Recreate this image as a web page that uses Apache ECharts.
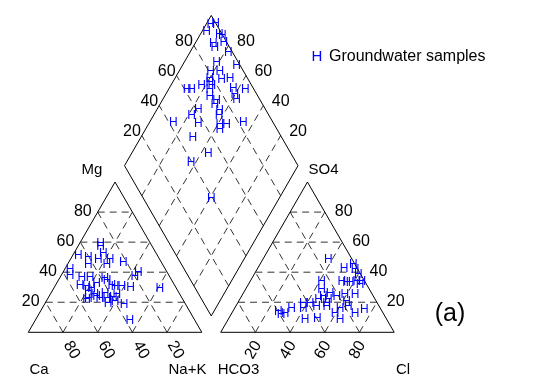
<!DOCTYPE html>
<html><head><meta charset="utf-8">
<script src="https://cdn.jsdelivr.net/npm/echarts@6/dist/echarts.min.js"></script>
<style>html,body{margin:0;padding:0;background:#fff}#c{width:543px;height:379px}</style>
</head><body><div id="c"></div>
<script>
// ---------------- data ----------------
const tickValues = [20, 40, 60, 80];
const cationCa = [28.7, 29.9, 45.8, 40.5, 30.5, 35.4, 28.6, 43.0, 32.1, 21.9, 55.2, 57.2, 50.9, 46.1, 37.9, 37.6, 20.0, 16.7, 54.8, 51.3, 49.1, 36.5, 34.9, 31.0, 26.1, 9.5, 52.0, 49.2, 42.8, 54.1, 48.8, 43.5, 39.6, 44.3, 39.8, 35.7, 37.7, 55.6, 47.4, 44.3, 36.6];
const cationMg = [59.2, 56.8, 50.8, 49.9, 52.6, 48.6, 48.6, 44.8, 45.3, 46.6, 41.5, 37.5, 36.5, 36.5, 35.9, 34.1, 37.1, 39.7, 30.8, 30.1, 28.8, 30.8, 30.3, 30.1, 30.0, 29.3, 26.8, 24.8, 26.0, 22.6, 23.7, 22.6, 22.8, 19.3, 20.4, 18.2, 7.5, 21.5, 22.6, 32.6, 24.8];
const anionCl = [37.7, 49.8, 54.0, 56.7, 60.2, 64.5, 61.6, 52.9, 56.1, 64.6, 41.3, 44.1, 50.0, 55.1, 47.3, 51.3, 45.6, 59.2, 65.0, 37.9, 41.8, 46.8, 52.6, 62.4, 60.8, 59.6, 71.1, 75.4, 26.3, 30.8, 32.9, 39.6, 44.5, 51.0, 64.7, 29.0, 65.0, 58.1, 51.4];
const anionSO4 = [48.6, 42.6, 44.8, 41.5, 38.1, 33.7, 33.7, 33.7, 33.0, 31.5, 33.7, 28.2, 26.0, 23.7, 23.7, 21.5, 21.5, 24.8, 24.8, 19.3, 19.3, 17.0, 17.0, 20.4, 16.0, 12.6, 12.6, 14.8, 13.7, 12.6, 16.0, 16.0, 8.2, 9.3, 8.2, 11.5, 17.0, 32.8, 19.3];
const diamondSO4Cl = [96.6, 99.6, 91.8, 98.1, 99.6, 91.9, 91.4, 98.1, 97.3, 87.2, 98.0, 80.8, 86.4, 78.3, 76.9, 84.5, 89.9, 71.1, 61.2, 63.9, 74.6, 72.2, 88.2, 87.3, 95.1, 86.5, 74.8, 73.1, 71.0, 61.0, 55.2, 56.5, 42.5, 68.5, 72.4, 82.9, 66.9, 48.6, 52.4, 39.5, 39.1, 76.9, 72.3];
const diamondCaMg = [97.0, 94.7, 97.2, 88.9, 86.7, 89.6, 87.2, 83.5, 77.7, 81.2, 68.7, 81.7, 76.4, 79.8, 78.4, 72.5, 68.3, 82.2, 89.2, 86.5, 76.1, 73.7, 62.8, 60.0, 55.7, 57.2, 68.6, 63.6, 62.1, 76.0, 77.8, 71.5, 86.3, 58.5, 54.6, 46.0, 56.9, 69.7, 55.8, 62.7, 39.1, 76.1, 68.1];
const seriesName = 'Groundwater samples';
const markerChar = 'H';
const axisNames = ['Mg', 'SO4', 'Ca', 'Na+K', 'HCO3', 'Cl'];
const panelTag = '(a)';

// ---------------- geometry (ternary -> cartesian) ----------------
const H = Math.sqrt(3) / 2;
const GAP = 10.9;
const X0 = 100 + GAP;
const BX = 100 + GAP / 2, BY = GAP * H;
function cat(ca, mg) { const nak = 100 - ca - mg; return [nak + mg / 2, mg * H]; }
function an(cl, so4) { return [X0 + cl + so4 / 2, so4 * H]; }
function dia(p, q) { return [BX + (p - q) / 2, BY + (p + q) * H]; }

function poly(pts) { const s = []; for (let i = 0; i < pts.length; i++) { const a = pts[i], b = pts[(i + 1) % pts.length]; s.push([a[0], a[1], b[0], b[1]]); } return s; }
const outline = [].concat(
  poly([cat(100, 0), cat(0, 0), cat(0, 100)]),
  poly([an(0, 0), an(100, 0), an(0, 100)]),
  poly([dia(0, 0), dia(100, 0), dia(100, 100), dia(0, 100)])
);
const grid = [];
tickValues.forEach(t => {
  grid.push([...cat(100 - t, t), ...cat(0, t)]);
  grid.push([...cat(t, 0), ...cat(t, 100 - t)]);
  grid.push([...cat(100 - t, 0), ...cat(0, 100 - t)]);
  grid.push([...an(0, t), ...an(100 - t, t)]);
  grid.push([...an(t, 0), ...an(t, 100 - t)]);
  grid.push([...an(100 - t, 0), ...an(0, 100 - t)]);
  grid.push([...dia(t, 0), ...dia(t, 100)]);
  grid.push([...dia(0, t), ...dia(100, t)]);
});
const labels = [], labelMeta = [];
tickValues.forEach(t => {
  labels.push(cat(100 - t, t)); labelMeta.push({ text: String(t), dx: -6, dy: -1, align: 'right', rot: 0 });
  labels.push(cat(t, 0)); labelMeta.push({ text: String(t), dx: 8.5, dy: 17.7, align: 'center', rot: -Math.PI / 3 });
  labels.push(an(t, 0)); labelMeta.push({ text: String(t), dx: -2, dy: 17.7, align: 'center', rot: Math.PI / 3 });
  labels.push(an(100 - t, t)); labelMeta.push({ text: String(t), dx: 10, dy: -0.5, align: 'left', rot: 0 });
  labels.push(dia(t, 100)); labelMeta.push({ text: String(t), dx: -1, dy: -4, align: 'right', rot: 0 });
  labels.push(dia(100, t)); labelMeta.push({ text: String(t), dx: 8.5, dy: -4, align: 'left', rot: 0 });
});
const points = [];
cationCa.forEach((c, i) => points.push(cat(c, cationMg[i])));
anionCl.forEach((c, i) => points.push(an(c, anionSO4[i])));
diamondSO4Cl.forEach((p, i) => points.push(dia(p, diamondCaMg[i])));

// ---------------- chart ----------------
const W = 543, HT = 379, OX = 28.3, OY = 332.3, S = 1.735;
const FONT = 'Liberation Sans, Arial, Helvetica, sans-serif';
const chart = echarts.init(document.getElementById('c'), null, { renderer: 'canvas' });
function segRender(dash, color) {
  return function (params, api) {
    const a = api.coord([api.value(0), api.value(1)]);
    const b = api.coord([api.value(2), api.value(3)]);
    return { type: 'line', shape: { x1: a[0], y1: a[1], x2: b[0], y2: b[1] }, style: { stroke: color, lineWidth: 1, lineDash: dash, fill: null } };
  };
}
chart.setOption({
  animation: false,
  backgroundColor: '#fff',
  grid: { left: 0, right: 0, top: 0, bottom: 0 },
  xAxis: { type: 'value', min: -OX / S, max: (W - OX) / S, show: false },
  yAxis: { type: 'value', min: -(HT - OY) / S, max: OY / S, show: false },
  graphic: [
    { type: 'text', x: 92, y: 170, style: { text: axisNames[0], font: '15px ' + FONT, fill: '#000', align: 'center', verticalAlign: 'middle' } },
    { type: 'text', x: 323.5, y: 170, style: { text: axisNames[1], font: '15px ' + FONT, fill: '#000', align: 'center', verticalAlign: 'middle' } },
    { type: 'text', x: 39, y: 370, style: { text: axisNames[2], font: '15px ' + FONT, fill: '#000', align: 'center', verticalAlign: 'middle' } },
    { type: 'text', x: 187.5, y: 370, style: { text: axisNames[3], font: '15px ' + FONT, fill: '#000', align: 'center', verticalAlign: 'middle' } },
    { type: 'text', x: 238.5, y: 370, style: { text: axisNames[4], font: '15px ' + FONT, fill: '#000', align: 'center', verticalAlign: 'middle' } },
    { type: 'text', x: 403, y: 370, style: { text: axisNames[5], font: '15px ' + FONT, fill: '#000', align: 'center', verticalAlign: 'middle' } },
    { type: 'text', x: 450, y: 314, style: { text: panelTag, font: '25px ' + FONT, fill: '#000', align: 'center', verticalAlign: 'middle' } },
    { type: 'text', x: 317, y: 57, style: { text: markerChar, font: '15px ' + FONT, fill: '#0000ff', align: 'center', verticalAlign: 'middle' } },
    { type: 'text', x: 329, y: 57, style: { text: seriesName, font: '16px ' + FONT, fill: '#000', align: 'left', verticalAlign: 'middle' } }
  ],
  series: [
    { type: 'custom', name: 'grid', silent: true, data: grid, renderItem: segRender([7, 5], '#333') },
    { type: 'custom', name: 'outline', silent: true, data: outline, renderItem: segRender(null, '#000') },
    {
      type: 'custom', name: 'ticks', silent: true, data: labels,
      renderItem: function (params, api) {
        const a = api.coord([api.value(0), api.value(1)]);
        const m = labelMeta[params.dataIndex];
        return { type: 'text', x: a[0] + m.dx, y: a[1] + m.dy, rotation: m.rot, style: { text: m.text, font: '16px ' + FONT, fill: '#000', align: m.align, verticalAlign: 'middle' } };
      }
    },
    {
      type: 'custom', name: seriesName, silent: true, data: points,
      renderItem: function (params, api) {
        const a = api.coord([api.value(0), api.value(1)]);
        return { type: 'text', x: a[0], y: a[1], style: { text: markerChar, font: '12px ' + FONT, fill: '#0000ff', align: 'center', verticalAlign: 'middle' } };
      }
    }
  ]
});
</script></body></html>
